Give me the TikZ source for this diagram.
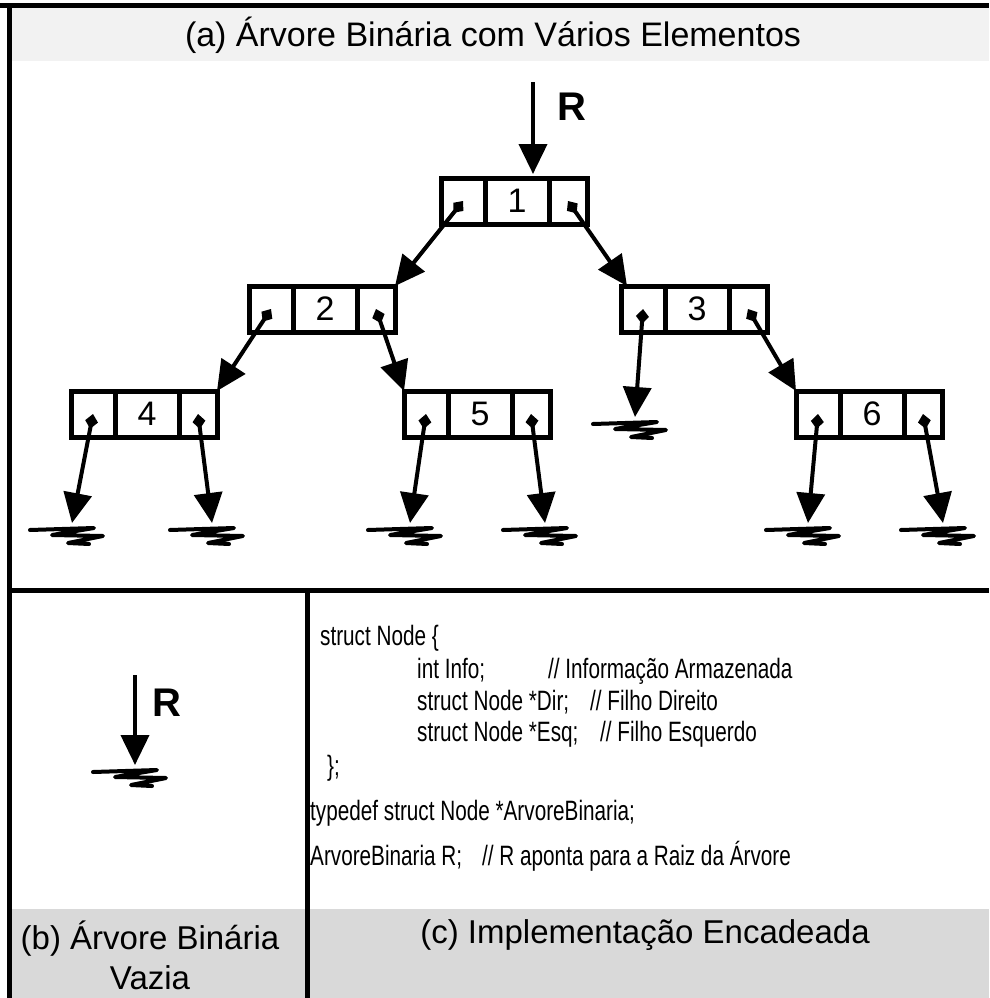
\documentclass[tikz,border=0pt]{standalone}
\usepackage{fontspec}
\setmainfont{Liberation Sans}
\newfontfamily\codefont[FakeStretch=0.74]{Liberation Sans}
\usetikzlibrary{arrows.meta,positioning}

\newcommand{\noarv}[3]{%
  \node[cell,minimum width=64pt] (#1) at (#2) {#3};
  \node[cell,minimum width=44pt,left=0pt of #1] (#1e) {};
  \node[cell,minimum width=38pt,right=0pt of #1] (#1d) {};}

\begin{document}
\begin{tikzpicture}[x=1pt,y=-1pt,
    cell/.style={draw,line width=5pt,outer sep=0pt,minimum height=46pt,inner sep=0pt,font=\fontsize{34}{40}\selectfont},
    ptr/.style={line width=4pt,{Diamond[length=15pt,width=13pt]}-{Triangle[length=30pt,width=28pt]}},
    seta/.style={line width=4pt,-{Triangle[length=30pt,width=28pt]}},
    codeline/.style={anchor=base west,inner sep=0pt,font=\codefont\fontsize{28}{30}\selectfont},
    rotulo/.style={font=\fontsize{33}{40}\selectfont,align=center},
    terra/.pic={\draw[line width=4pt,line join=round,line cap=round]
      (-42,7) -- (22,5) -- (-20,12) -- (31,13) -- (-4,20) -- (17,21);}]
  \useasboundingbox (0,0) rectangle (989,998);
  % faixas e bordas
  \fill[black!5] (12,8) rectangle (989,61);
  \fill[black!15] (12,909) rectangle (989,998);
  \draw[line width=5pt] (0,6) -- (989,6);
  \draw[line width=5pt] (9.5,4) -- (9.5,998);
  \draw[line width=5pt] (7,590) -- (989,590);
  \draw[line width=5pt] (307,590) -- (307,998);
  \node[rotulo,font=\fontsize{34}{40}\selectfont] (titA) at (493,35) {(a) Árvore Binária com Vários Elementos};
  \node[rotulo] (titB) at (150,955) {(b) Árvore Binária\\Vazia};
  \node[rotulo] (titC) at (645,935) {(c) Implementação Encadeada};
  % arvore
  \noarv{n1}{517,201}{1}
  \noarv{n2}{325,309}{2}
  \noarv{n3}{697,309}{3}
  \noarv{n4}{147,414}{4}
  \noarv{n5}{480,414}{5}
  \noarv{n6}{872,414}{6}
  \coordinate (raiz) at (533,82);
  \coordinate (raizT) at (533,174);
  \draw[seta] (raiz) -- (raizT);
  \node[font=\bfseries\fontsize{40}{40}\selectfont] (rotR) at (572,107) {R};
  \draw[ptr] (n1e.center) -- (n2d.north east);
  \draw[ptr] (n1d.center) -- ([xshift=6pt]n3e.north west);
  \draw[ptr] (n2e.center) -- (n4d.north east);
  \draw[ptr] (n2d.center) -- (n5e.north west);
  \draw[ptr] (n3d.center) -- (n6e.north west);
  \coordinate (t3e) at (635,417);
  \coordinate (t4e) at (72,523);
  \coordinate (t4d) at (212,523);
  \coordinate (t5e) at (410,523);
  \coordinate (t5d) at (545,523);
  \coordinate (t6e) at (808,523);
  \coordinate (t6d) at (943,523);
  \foreach \n/\t in {n3e/t3e,n4e/t4e,n4d/t4d,n5e/t5e,n5d/t5d,n6e/t6e,n6d/t6d}{
    \draw[ptr] (\n.center) -- (\t);
    \pic at (\t) {terra};
  }
  % arvore vazia
  \coordinate (vazio) at (135,675);
  \coordinate (vazioT) at (135,765);
  \draw[seta] (vazio) -- (vazioT);
  \pic at (vazioT) {terra};
  \node[font=\bfseries\fontsize{40}{40}\selectfont] (rotR2) at (167,703) {R};
  % codigo
  \node[codeline] (c1) at (320,645) {struct Node \{};
  \node[codeline] (c2) at (417,678) {int Info;};
  \node[codeline] (c2c) at (548,678) {// Informação Armazenada};
  \node[codeline] (c3) at (417,710) {struct Node *Dir;};
  \node[codeline] (c3c) at (590,710) {// Filho Direito};
  \node[codeline] (c4) at (417,741) {struct Node *Esq;};
  \node[codeline] (c4c) at (600,741) {// Filho Esquerdo};
  \node[codeline] (c5) at (327,775) {\};};
  \node[codeline] (c6) at (310,820) {typedef struct Node *ArvoreBinaria;};
  \node[codeline] (c7) at (310,865) {ArvoreBinaria R;};
  \node[codeline] (c7c) at (482,865) {// R aponta para a Raiz da Árvore};
\end{tikzpicture}
\end{document}
